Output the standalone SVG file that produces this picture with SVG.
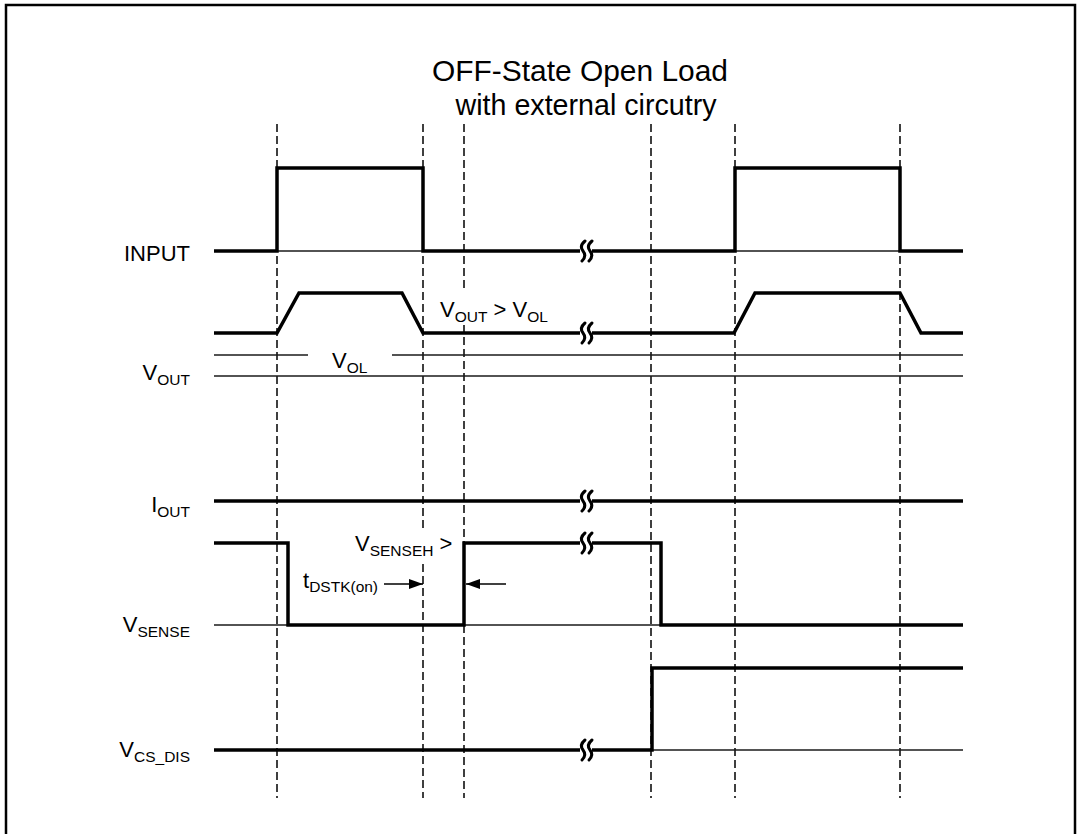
<svg xmlns="http://www.w3.org/2000/svg" width="1080" height="834" viewBox="0 0 1080 834">
<style>
.sig{fill:none;stroke:#000;stroke-width:3.5;stroke-linejoin:miter;stroke-linecap:butt}
.thin{fill:none;stroke:#1a1a1a;stroke-width:1.3}
.dash{fill:none;stroke:#000;stroke-width:1.5;stroke-dasharray:8 4}
.lbl{font-family:"Liberation Sans",Arial,sans-serif;font-size:22px;fill:#000}
.sub{font-size:15.5px}
.title{font-family:"Liberation Sans",Arial,sans-serif;font-size:30px;fill:#000;text-anchor:middle}
.sq{fill:none;stroke:#000;stroke-width:3;stroke-linecap:round}
</style>
<defs>
<marker id="ah" viewBox="0 0 14 10" refX="14" refY="5" markerWidth="14" markerHeight="10" markerUnits="userSpaceOnUse" orient="auto">
<path d="M0,0 L14,5 L0,10 z" fill="#000"/>
</marker>
<g id="squig">
<rect x="-6" y="-4" width="12" height="8" fill="#fff"/>
<path class="sq" d="M-1,-10 Q-7,-5 -3,0 Q1,5 -4,10"/>
<path class="sq" d="M6,-10 Q0,-5 4,0 Q8,5 3,10"/>
</g>
</defs>
<rect x="6" y="5" width="1069" height="840" fill="#fff" stroke="#000" stroke-width="2.5"/>

<g id="title">
<text class="title" x="580" y="81" textLength="296" lengthAdjust="spacingAndGlyphs">OFF-State Open Load</text>
<text class="title" x="586" y="115" textLength="261" lengthAdjust="spacingAndGlyphs">with external circutry</text>
</g>

<g id="connectors">
<line class="dash" x1="277" y1="124" x2="277" y2="798"/>
<path class="dash" d="M423,124 V528 M423,564 V798"/>
<path class="dash" d="M464,124 V290 M464,325 V798"/>
<line class="dash" x1="651" y1="124" x2="651" y2="798"/>
<line class="dash" x1="735" y1="124" x2="735" y2="798"/>
<line class="dash" x1="900" y1="124" x2="900" y2="798"/>
</g>

<g id="input">
<line class="thin" x1="277" y1="251" x2="423" y2="251"/>
<line class="thin" x1="735" y1="251" x2="900" y2="251"/>
<path class="sig" d="M214,251 H277 V168 H423 V251 H735 V168 H900 V251 H963"/>
<use href="#squig" x="586" y="251"/>
<text class="lbl" x="190" y="261" text-anchor="end">INPUT</text>
</g>

<g id="vout">
<line class="thin" x1="214" y1="355" x2="308" y2="355"/>
<line class="thin" x1="392" y1="355" x2="963" y2="355"/>
<line class="thin" x1="214" y1="376" x2="963" y2="376"/>
<path class="sig" d="M214,333 H277 L299,293 H402 L423,333 H734 L755,293 H900 L921,333 H963"/>
<use href="#squig" x="586" y="333"/>
<text class="lbl" x="190" y="380" text-anchor="end">V<tspan class="sub" dy="5">OUT</tspan></text>
<text class="lbl" x="332" y="368">V<tspan class="sub" dy="5">OL</tspan></text>
<text class="lbl" x="440" y="317">V<tspan class="sub" dy="5">OUT</tspan><tspan dy="-5"> &gt; V</tspan><tspan class="sub" dy="5">OL</tspan></text>
</g>

<g id="iout">
<path class="sig" d="M214,501 H963"/>
<use href="#squig" x="586" y="501"/>
<text class="lbl" x="190" y="512" text-anchor="end">I<tspan class="sub" dy="5">OUT</tspan></text>
</g>

<g id="vsense">
<line class="thin" x1="214" y1="625" x2="963" y2="625"/>
<path class="sig" d="M214,543 H288 V625 H464 V543 H661 V625 H963"/>
<use href="#squig" x="586" y="543"/>
<text class="lbl" x="190" y="632" text-anchor="end">V<tspan class="sub" dy="5">SENSE</tspan></text>
<text class="lbl" x="355" y="551">V<tspan class="sub" dy="5">SENSEH</tspan><tspan dy="-5"> &gt;</tspan></text>
<text class="lbl" x="303" y="588">t<tspan class="sub" dy="4">DSTK(on)</tspan></text>
<line x1="384" y1="584" x2="423" y2="584" stroke="#000" stroke-width="1.3" marker-end="url(#ah)"/>
<line x1="506" y1="584" x2="466" y2="584" stroke="#000" stroke-width="1.3" marker-end="url(#ah)"/>
</g>

<g id="vcsdis">
<line class="thin" x1="652" y1="750" x2="963" y2="750"/>
<path class="sig" d="M214,750 H652 V668 H963"/>
<use href="#squig" x="586" y="750"/>
<text class="lbl" x="190" y="757" text-anchor="end">V<tspan class="sub" dy="5">CS_DIS</tspan></text>
</g>
</svg>
